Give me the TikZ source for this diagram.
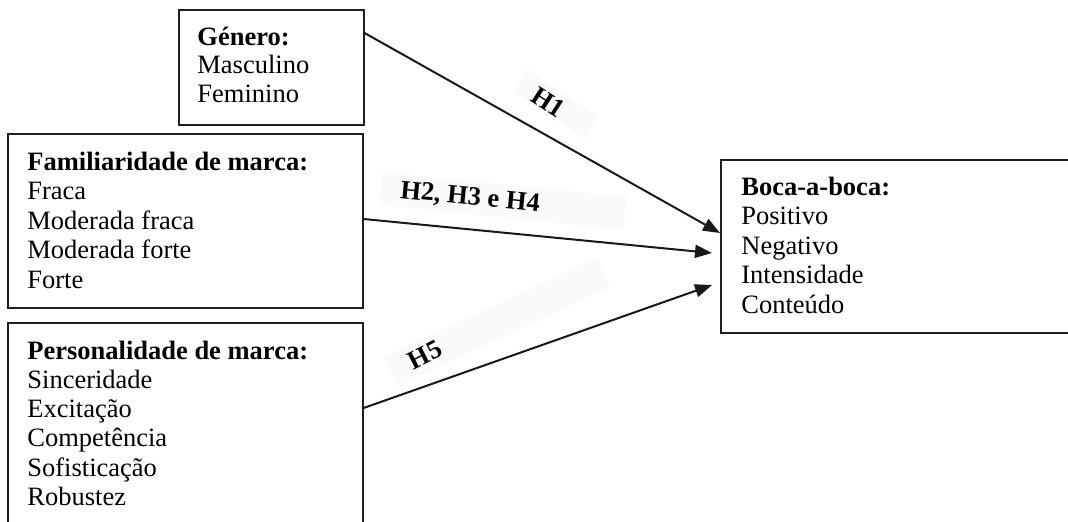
\documentclass[tikz,border=0pt]{standalone}
\usepackage{fontspec}
\setmainfont{Liberation Serif}
\usetikzlibrary{arrows.meta,calc}
\begin{document}
\begin{tikzpicture}[x=0.5pt,y=-0.5pt,
  box/.style={draw=black!88,line width=0.8pt,inner sep=0,anchor=north west},
  line/.style={anchor=base west,inner sep=0,font=\fontsize{13.25}{14.5}\selectfont},
  hlab/.style={inner sep=0,font=\fontsize{13.25}{14.5}\selectfont\bfseries},
  hbg/.style={fill=black!2,draw=none,inner sep=0},
  conn/.style={line width=1pt,draw=black!90,-{Triangle[length=8.5pt,width=6.5pt]}}]
\useasboundingbox (0,0) rectangle (1068,521);
\clip (0,0) rectangle (1068,521);
\fill[white] (0,0) rectangle (1068,521);
% faint label backgrounds
\node[hbg,rotate=-33,minimum width=42.75pt,minimum height=13pt] (bg1) at (556,104) {};
\node[hbg,rotate=-5.8,minimum width=122.5pt,minimum height=16.5pt] (bg2) at (503,201) {};
\node[hbg,rotate=25,minimum width=118pt,minimum height=16pt] (bg5) at (497,322) {};
% boxes
\node[box,minimum width=92.5pt,minimum height=57.5pt] (gen) at (178,9) {};
\node[box,minimum width=177.5pt,minimum height=87pt] (fam) at (7,133) {};
\node[box,minimum width=177.5pt,minimum height=119pt] (pers) at (7,322) {};
\node[box,minimum width=185pt,minimum height=86.5pt] (boca) at (720,159) {};
% texts
\node[line] (g1) at (197,45) {\textbf{Género:}};
\node[line] (g2) at (197,73.5) {Masculino};
\node[line] (g3) at (197,102) {Feminino};
\node[line] (f1) at (27,170) {\textbf{Familiaridade de marca:}};
\node[line] (f2) at (27,199.5) {Fraca};
\node[line] (f3) at (27,229) {Moderada fraca};
\node[line] (f4) at (27,258.5) {Moderada forte};
\node[line] (f5) at (27,288) {Forte};
\node[line] (p1) at (27,359) {\textbf{Personalidade de marca:}};
\node[line] (p2) at (27,388) {Sinceridade};
\node[line] (p3) at (27,417) {Excitação};
\node[line] (p4) at (27,446.5) {Competência};
\node[line] (p5) at (27,476) {Sofisticação};
\node[line] (p6) at (27,505) {Robustez};
\node[line] (b1) at (741,195) {\textbf{Boca-a-boca:}};
\node[line] (b2) at (741,224.5) {Positivo};
\node[line] (b3) at (741,254) {Negativo};
\node[line] (b4) at (741,283.5) {Intensidade};
\node[line] (b5) at (741,313) {Conteúdo};
% connector ends
\coordinate (s1) at ($(gen.north east)+(0,24)$);
\coordinate (s2) at ($(fam.north east)+(0,86)$);
\coordinate (s5) at ($(pers.north east)+(0,86)$);
\coordinate (e1) at ($(boca.north west)+(0,74)$);
\coordinate (e2) at ($(boca.north west)+(-8,94)$);
\coordinate (e5) at ($(boca.north west)+(-8,126)$);
\draw[conn] (s1) -- (e1);
\draw[conn] (s2) -- (e2);
\draw[conn] (s5) -- (e5);
% labels
\node[hlab,rotate=-33] (h1) at (548,102) {H1};
\node[hlab,rotate=-5.5] (h2) at (470,198) {H2, H3 e H4};
\node[hlab,rotate=27] (h5) at (425,355) {H5};
\end{tikzpicture}
\end{document}
